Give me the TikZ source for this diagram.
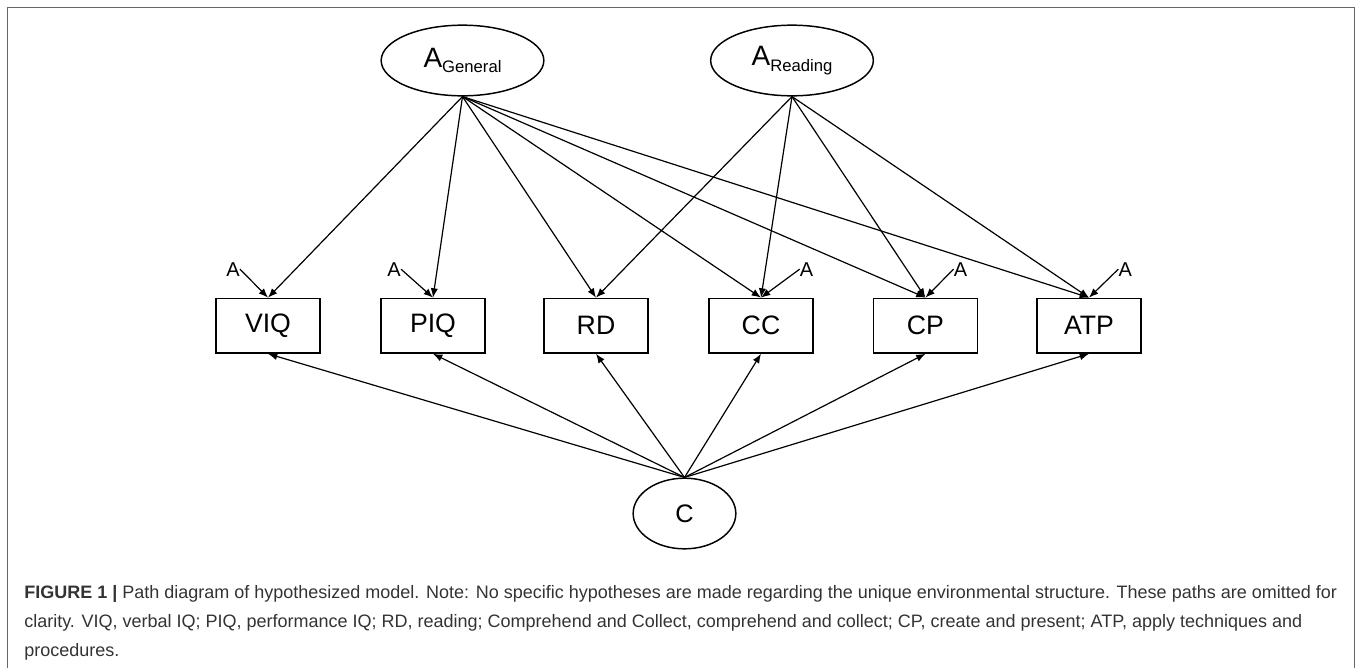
\documentclass[tikz,border=0pt]{standalone}
\usepackage{fontspec}
\setmainfont{Liberation Sans}
\usetikzlibrary{positioning,shapes.geometric,arrows.meta}
\tikzstyle{block} = [rectangle, draw, line width=1.1pt, minimum width=78pt, minimum height=41pt, text centered, font=\fontsize{20}{24}\selectfont]
\tikzstyle{latent} = [ellipse, draw, line width=1.1pt, minimum width=122pt, minimum height=53pt]
\tikzstyle{resid} = [inner sep=0pt, font=\fontsize{15}{18}\selectfont]
\tikzstyle{line} = [draw, line width=0.9pt, -{Latex[length=7pt,width=5.5pt]}]
\newcommand{\latname}[2]{{\fontsize{21}{24}\selectfont #1}\raisebox{-4pt}{\fontsize{12.5}{14}\selectfont #2}}

\begin{document}
\begin{tikzpicture}[x=0.75pt,y=-0.75pt]
	\useasboundingbox (0,0) rectangle (1357,668);
	\draw[black!60, line width=0.9pt] (7.5,668) -- (7.5,7.5) -- (1354.5,7.5) -- (1354.5,668);

	\node[latent] (ag) at (462.5,60.5) {\latname{A}{General}};
	\node[latent] (ar) at (792,60.5) {\latname{A}{Reading}};
	\node[latent, minimum width=77pt] (c) at (684.5,513.5) {\fontsize{19}{22}\selectfont C};

	\node[block] (viq) at (268,325.7) {VIQ};
	\node[block] (piq) at (433,325.7) {PIQ};
	\node[block] (rd) at (596,325.7) {RD};
	\node[block] (cc) at (761,325.7) {CC};
	\node[block] (cp) at (925.5,325.7) {CP};
	\node[block] (atp) at (1089,325.7) {ATP};

	\node[resid, above left=16pt and 21pt of viq.north] (eviq) {A};
	\node[resid, above left=16pt and 24pt of piq.north] (epiq) {A};
	\node[resid, above right=16pt and 29pt of cc.north] (ecc) {A};
	\node[resid, above right=16pt and 21pt of cp.north] (ecp) {A};
	\node[resid, above right=16pt and 22pt of atp.north] (eatp) {A};

	\path[line] (ag.south) -- (viq.north);
	\path[line] (ag.south) -- (piq.north);
	\path[line] (ag.south) -- (rd.north);
	\path[line] (ag.south) -- (cc.north);
	\path[line] (ag.south) -- (cp.north);
	\path[line] (ag.south) -- (atp.north);
	\path[line] (ar.south) -- (rd.north);
	\path[line] (ar.south) -- (cc.north);
	\path[line] (ar.south) -- (cp.north);
	\path[line] (ar.south) -- (atp.north);

	\path[line] (eviq.east) -- (viq.north);
	\path[line] (epiq.east) -- (piq.north);
	\path[line] (ecc.west) -- (cc.north);
	\path[line] (ecp.west) -- (cp.north);
	\path[line] (eatp.west) -- (atp.north);

	\path[line] (c.north) -- (viq.south);
	\path[line] (c.north) -- (piq.south);
	\path[line] (c.north) -- (rd.south);
	\path[line] (c.north) -- (cc.south);
	\path[line] (c.north) -- (cp.south);
	\path[line] (c.north) -- (atp.south);

	\node[anchor=base west, align=left, inner sep=0pt, text=black!80, font=\fontsize{13.5}{21.75}\selectfont] (cap) at (24,656) {\textbf{FIGURE 1 |} Path diagram of hypothesized model. Note: No specific hypotheses are made regarding the unique environmental structure. These paths are omitted for\\clarity. VIQ, verbal IQ; PIQ, performance IQ; RD, reading; Comprehend and Collect, comprehend and collect; CP, create and present; ATP, apply techniques and\\procedures.};
\end{tikzpicture}
\end{document}
